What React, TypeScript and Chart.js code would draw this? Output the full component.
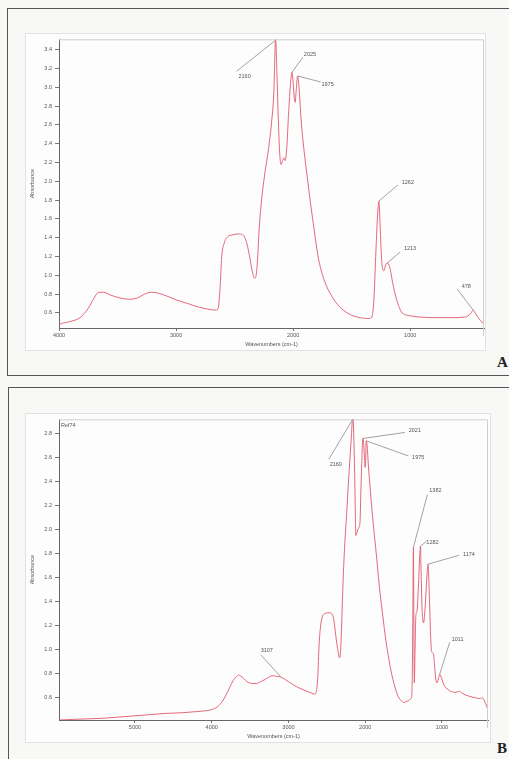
import React, { useEffect, useRef } from "react";
import { Chart, registerables } from "chart.js";
Chart.register(...registerables);

// ---------- Spectrum A ----------
const wavenumbersA = [4000, 3990, 3900, 3820, 3750, 3700, 3660, 3620, 3560, 3480, 3400, 3330, 3270, 3210, 3150, 3080, 3000, 2900, 2800, 2700, 2660, 2640, 2625, 2610, 2590, 2560, 2520, 2470, 2430, 2400, 2375, 2350, 2330, 2320, 2305, 2290, 2270, 2240, 2210, 2185, 2165, 2150, 2140, 2128, 2115, 2103, 2090, 2080, 2068, 2055, 2040, 2025, 2010, 2000, 1990, 1983, 1975, 1962, 1950, 1930, 1900, 1880, 1850, 1820, 1790, 1760, 1720, 1680, 1640, 1600, 1550, 1500, 1450, 1400, 1360, 1340, 1325, 1310, 1295, 1280, 1268, 1258, 1248, 1238, 1225, 1212, 1198, 1185, 1170, 1150, 1125, 1100, 1075, 1050, 1000, 950, 900, 800, 700, 600, 550, 520, 500, 480, 462, 445, 425, 400, 370];
const absorbanceA = [0.47, 0.48, 0.51, 0.55, 0.65, 0.76, 0.82, 0.82, 0.79, 0.76, 0.745, 0.76, 0.8, 0.82, 0.81, 0.78, 0.74, 0.7, 0.66, 0.635, 0.63, 0.65, 0.85, 1.2, 1.34, 1.41, 1.43, 1.44, 1.43, 1.36, 1.22, 1.05, 0.97, 0.98, 1.15, 1.5, 1.8, 2.1, 2.35, 2.62, 2.95, 3.52, 3.2, 2.7, 2.3, 2.18, 2.22, 2.25, 2.22, 2.35, 2.7, 3.0, 3.16, 3.05, 2.88, 2.84, 2.95, 3.12, 3.0, 2.62, 2.25, 2.05, 1.75, 1.48, 1.22, 1.05, 0.9, 0.8, 0.72, 0.66, 0.61, 0.575, 0.555, 0.545, 0.54, 0.545, 0.57, 0.75, 1.2, 1.62, 1.79, 1.55, 1.25, 1.08, 1.05, 1.1, 1.13, 1.12, 1.06, 0.92, 0.78, 0.68, 0.61, 0.585, 0.57, 0.56, 0.555, 0.55, 0.55, 0.55, 0.555, 0.56, 0.575, 0.6, 0.63, 0.6, 0.56, 0.52, 0.48];
const xTicksA = [4000, 3000, 2000, 1000];
const yTicksA = [0.6, 0.8, 1.0, 1.2, 1.4, 1.6, 1.8, 2.0, 2.2, 2.4, 2.6, 2.8, 3.0, 3.2, 3.4];
const peakLabelsA = ["2160", "2025", "1975", "1262", "1213", "478"];
const peakWnA = [2150, 2010, 1962, 1268, 1198, 462];
const peakAbsA = [3.5, 3.16, 3.12, 1.79, 1.13, 0.63];

// ---------- Spectrum B ----------
const wavenumbersB = [5990, 5800, 5600, 5400, 5200, 5000, 4800, 4600, 4400, 4200, 4050, 3950, 3880, 3820, 3760, 3720, 3680, 3650, 3620, 3580, 3540, 3480, 3420, 3360, 3300, 3250, 3210, 3160, 3107, 3060, 3000, 2900, 2800, 2700, 2660, 2640, 2620, 2600, 2580, 2560, 2520, 2470, 2440, 2410, 2390, 2370, 2350, 2335, 2325, 2310, 2295, 2280, 2260, 2240, 2220, 2200, 2180, 2162, 2150, 2140, 2130, 2122, 2110, 2095, 2080, 2068, 2055, 2045, 2031, 2020, 2010, 2002, 1995, 1987, 1975, 1960, 1940, 1910, 1880, 1850, 1820, 1790, 1760, 1730, 1700, 1670, 1640, 1610, 1580, 1550, 1520, 1500, 1480, 1460, 1440, 1420, 1405, 1395, 1385, 1378, 1372, 1366, 1360, 1352, 1340, 1325, 1305, 1290, 1280, 1272, 1260, 1250, 1240, 1225, 1210, 1195, 1183, 1172, 1162, 1150, 1138, 1125, 1110, 1095, 1080, 1065, 1052, 1040, 1030, 1020, 1000, 980, 950, 920, 890, 860, 830, 800, 770, 740, 700, 650, 600, 560, 520, 500, 480, 460, 440, 420, 400];
const absorbanceB = [0.41, 0.415, 0.42, 0.425, 0.435, 0.445, 0.455, 0.465, 0.47, 0.48, 0.49, 0.51, 0.55, 0.61, 0.69, 0.74, 0.77, 0.785, 0.775, 0.755, 0.73, 0.715, 0.715, 0.73, 0.75, 0.77, 0.78, 0.775, 0.77, 0.755, 0.73, 0.69, 0.66, 0.635, 0.625, 0.64, 0.75, 1.05, 1.2, 1.27, 1.3, 1.305, 1.3, 1.25, 1.15, 1.05, 0.97, 0.93, 0.95, 1.15, 1.45, 1.7, 1.95, 2.15, 2.38, 2.58, 2.78, 2.95, 2.8, 2.55, 2.2, 1.95, 1.97, 2.0, 2.02, 2.06, 2.35, 2.55, 2.76, 2.72, 2.6, 2.52, 2.55, 2.74, 2.7, 2.55, 2.38, 2.15, 1.95, 1.76, 1.55, 1.38, 1.22, 1.07, 0.95, 0.84, 0.75, 0.68, 0.62, 0.585, 0.565, 0.555, 0.56, 0.565, 0.57, 0.58, 0.59, 0.6, 0.85, 1.4, 1.85, 1.2, 0.72, 0.95, 1.28, 1.32, 1.55, 1.78, 1.86, 1.65, 1.35, 1.25, 1.22, 1.3, 1.45, 1.62, 1.71, 1.6, 1.4, 1.15, 1.0, 0.97, 0.96, 0.85, 0.75, 0.72, 0.74, 0.77, 0.79, 0.785, 0.75, 0.71, 0.68, 0.665, 0.65, 0.645, 0.64, 0.645, 0.65, 0.635, 0.62, 0.61, 0.6, 0.595, 0.59, 0.59, 0.595, 0.585, 0.56, 0.53, 0.49];
const xTicksB = [5000, 4000, 3000, 2000, 1000];
const yTicksB = [0.6, 0.8, 1.0, 1.2, 1.4, 1.6, 1.8, 2.0, 2.2, 2.4, 2.6, 2.8];
const peakLabelsB = ["3107", "2160", "2021", "1975", "1382", "1282", "1174", "1011"];
const peakWnB = [3100, 2162, 2031, 1987, 1372, 1280, 1183, 1030];
const peakAbsB = [0.77, 2.92, 2.76, 2.74, 1.85, 1.86, 1.71, 0.79];

// leader-line layout (pixel offsets from the peak tip): [lineX, lineY, textX, textY]
const leaderLayoutA = [[-39, 31, -31, 36], [11, -15, 18, -18], [23, 6, 30, 9], [19, -16, 29, -19], [13, -11, 23, -15], [-16, -21, -7, -24]];
const leaderLayoutB = [[-20, -22, -14, -26], [-24, 40, -17, 45], [42, -6, 52, -8], [42, 15, 52, 17], [14, -53, 22, -57], [6, -5, 12, -4], [31, -9, 41, -10], [10, -32, 18, -35]];

const FONT = "'Liberation Sans', Arial, sans-serif";
const CURVE = "rgba(226, 96, 116, 0.95)";

type SpecProps = {
  wn: number[];
  ab: number[];
  xMin: number;
  xMax: number;
  yMin: number;
  yMax: number;
  xTicks: number[];
  yTicks: number[];
  labels: string[];
  pWn: number[];
  pAb: number[];
  layout: number[][];
  tag?: string;
  padRight: number;
};

function Spectrum(p: SpecProps) {
  const ref = useRef<HTMLCanvasElement>(null);
  useEffect(() => {
    if (!ref.current) return;
    const annot = {
      id: "annot",
      afterDraw(chart: any) {
        const { ctx, chartArea: a } = chart;
        const xs = chart.scales.x;
        const ys = chart.scales.y;
        ctx.save();
        // light top/right frame
        ctx.strokeStyle = "#cfcfcf";
        ctx.lineWidth = 1;
        ctx.beginPath();
        ctx.moveTo(a.left, a.top + 0.5);
        ctx.lineTo(a.right - 0.5, a.top + 0.5);
        ctx.lineTo(a.right - 0.5, a.bottom + 8);
        ctx.stroke();
        ctx.font = `5.5px ${FONT}`;
        ctx.textAlign = "center";
        ctx.textBaseline = "middle";
        p.labels.forEach((lab, i) => {
          const px = xs.getPixelForValue(p.pWn[i]);
          const py = Math.max(a.top, ys.getPixelForValue(p.pAb[i]));
          const [lx, ly, tx, ty] = p.layout[i];
          ctx.strokeStyle = "#8a8a8a";
          ctx.lineWidth = 0.8;
          ctx.beginPath();
          ctx.moveTo(px, py);
          ctx.lineTo(px + lx, py + ly);
          ctx.stroke();
          ctx.fillStyle = "#555";
          ctx.fillText(lab, px + tx, py + ty);
        });
        if (p.tag) {
          ctx.textAlign = "left";
          ctx.fillStyle = "#555";
          ctx.fillText(p.tag, a.left + 2, a.top + 6);
        }
        ctx.restore();
      },
    };
    const chart = new Chart(ref.current, {
      type: "line",
      data: {
        datasets: [
          {
            data: p.wn.map((w, i) => ({ x: w, y: p.ab[i] })),
            borderColor: CURVE,
            borderWidth: 1,
            pointRadius: 0,
            cubicInterpolationMode: "monotone",
            fill: false,
          },
        ],
      },
      options: {
        animation: false,
        responsive: true,
        maintainAspectRatio: false,
        layout: { padding: { left: 0, right: p.padRight, top: 1, bottom: 0 } },
        plugins: { legend: { display: false }, tooltip: { enabled: false } },
        scales: {
          x: {
            type: "linear",
            reverse: true,
            min: p.xMin,
            max: p.xMax,
            afterBuildTicks: (s: any) => {
              s.ticks = p.xTicks.map((v) => ({ value: v }));
            },
            afterFit: (s: any) => {
              s.height = 22;
            },
            ticks: {
              autoSkip: false,
              maxRotation: 0,
              padding: 1,
              color: "#555",
              font: { family: FONT, size: 5.5 },
              callback: (v: any) => String(v),
            },
            grid: { drawOnChartArea: false, drawTicks: true, tickLength: 3, color: "#777" },
            border: { display: true, color: "#666", width: 1 },
            title: {
              display: true,
              text: "Wavenumbers (cm-1)",
              color: "#555",
              font: { family: FONT, size: 5.5 },
              padding: { top: 0, bottom: 2 },
            },
          },
          y: {
            type: "linear",
            min: p.yMin,
            max: p.yMax,
            afterBuildTicks: (s: any) => {
              s.ticks = p.yTicks.map((v) => ({ value: v }));
            },
            afterFit: (s: any) => {
              s.width = 34;
            },
            ticks: {
              autoSkip: false,
              padding: 3,
              color: "#555",
              font: { family: FONT, size: 5.5 },
              callback: (v: any) => Number(v).toFixed(1),
            },
            grid: { drawOnChartArea: false, drawTicks: true, tickLength: 4, color: "#777" },
            border: { display: true, color: "#666", width: 1 },
            title: {
              display: true,
              text: "Absorbance",
              color: "#555",
              font: { family: FONT, size: 5.5 },
              padding: { top: 4, bottom: 0 },
            },
          },
        },
      },
      plugins: [annot],
    } as any);
    return () => chart.destroy();
  }, []);
  return <canvas ref={ref} />;
}

export default function App() {
  const abs = (l: number, t: number, w: number, h: number): React.CSSProperties => ({
    position: "absolute",
    left: l,
    top: t,
    width: w,
    height: h,
    boxSizing: "border-box",
  });
  return (
    <div style={{ position: "absolute", left: 0, top: 0, width: 509, height: 759, overflow: "hidden", background: "#f8f8f6" }}>
      {/* Panel A */}
      <div style={{ ...abs(7, 8, 520, 368), border: "1px solid #555", borderRight: "none" }} />
      <div style={{ ...abs(25, 33, 461, 318), border: "1px solid #e2e2e2", background: "#fdfdfd" }} />
      <div style={abs(25, 33, 460, 317)}>
        <Spectrum wn={wavenumbersA} ab={absorbanceA} xMin={370} xMax={4000} yMin={0.44} yMax={3.51} xTicks={xTicksA} yTicks={yTicksA} labels={peakLabelsA} pWn={peakWnA} pAb={peakAbsA} layout={leaderLayoutA} padRight={1} />
      </div>
      <div style={{ position: "absolute", left: 497, top: 354, font: "bold 15px 'Liberation Serif', 'Times New Roman', serif", color: "#222" }}>A</div>

      {/* Panel B */}
      <div style={{ ...abs(8, 387, 520, 400), border: "1px solid #555", borderRight: "none" }} />
      <div style={{ ...abs(25, 413, 466, 330), border: "1px solid #e2e2e2", background: "#fdfdfd" }} />
      <div style={abs(25, 413, 465, 329)}>
        <Spectrum wn={wavenumbersB} ab={absorbanceB} xMin={400} xMax={5990} yMin={0.41} yMax={2.92} xTicks={xTicksB} yTicks={yTicksB} labels={peakLabelsB} pWn={peakWnB} pAb={peakAbsB} layout={leaderLayoutB} tag="Ref74" padRight={2} />
      </div>
      <div style={{ position: "absolute", left: 497, top: 740, font: "bold 15px 'Liberation Serif', 'Times New Roman', serif", color: "#222" }}>B</div>
    </div>
  );
}
